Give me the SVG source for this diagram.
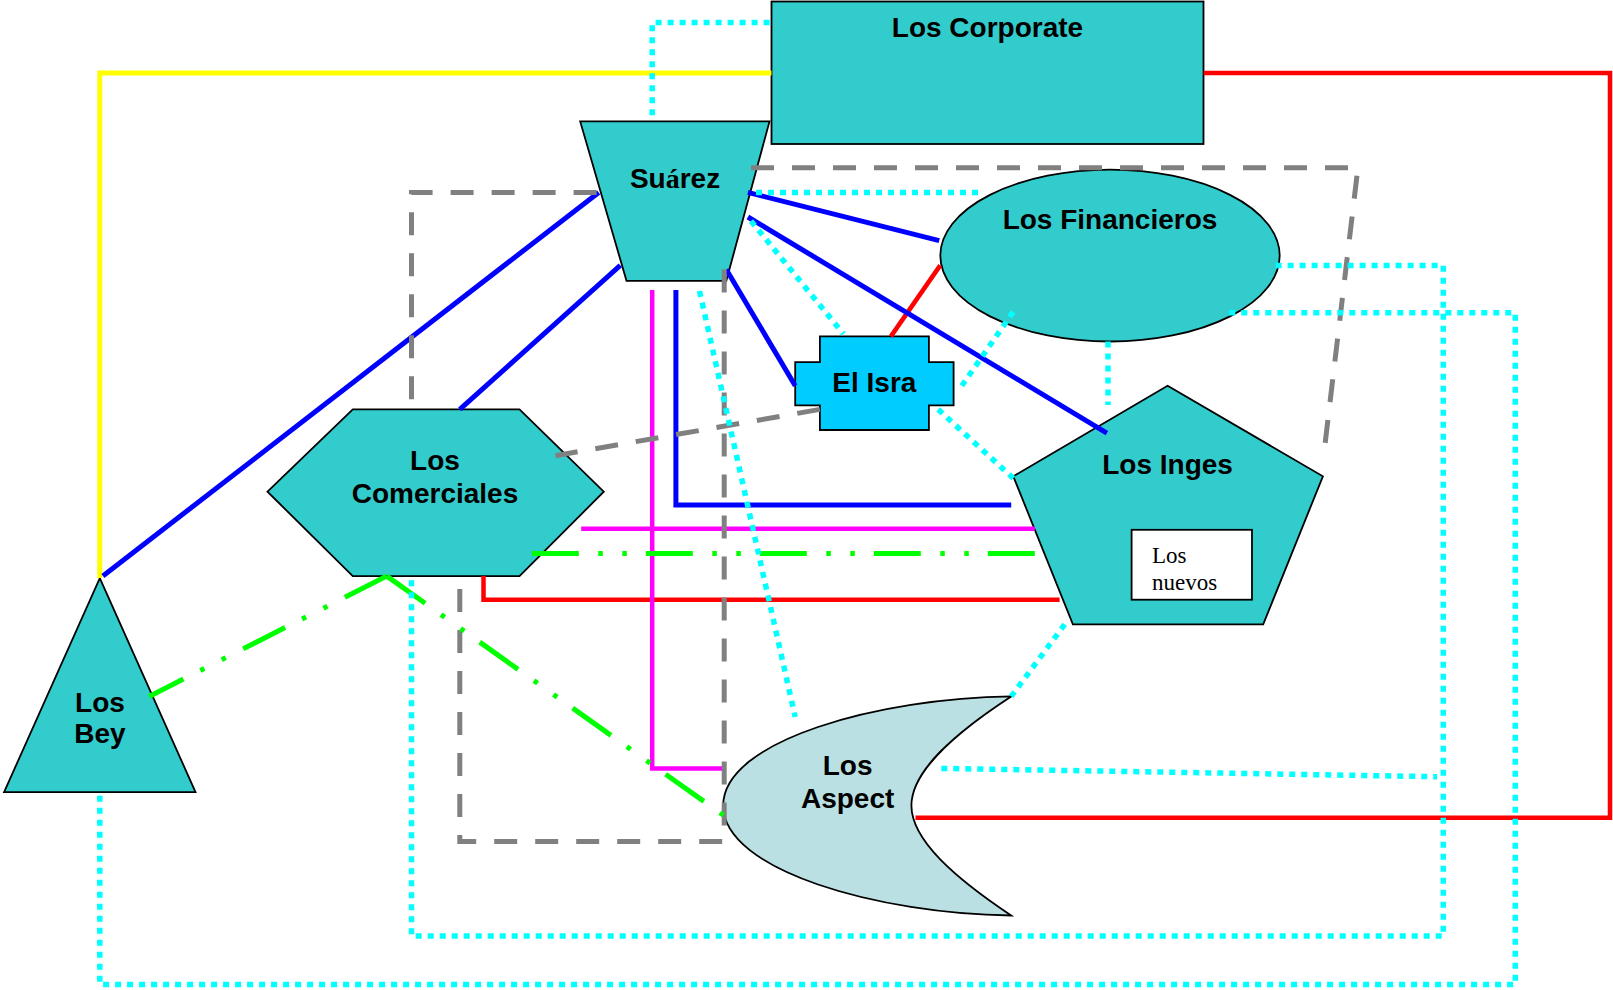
<svg xmlns="http://www.w3.org/2000/svg" width="1613" height="990" viewBox="0 0 1613 990">
  <style>
    .node { fill: #33CCCC; stroke: #000; stroke-width: 1.8; }
    .lbl { font-family: "Liberation Sans", Arial, sans-serif; font-weight: bold; font-size: 28px; fill: #000; text-anchor: middle; }
    .small { font-family: "Liberation Serif", "Times New Roman", serif; font-size: 23px; fill: #000; }
    .c { fill: none; stroke-linecap: butt; stroke-linejoin: miter; }
    .blue { stroke: #0000FF; stroke-width: 5; }
    .red { stroke: #FF0000; stroke-width: 4.5; }
    .yellow { stroke: #FFFF00; stroke-width: 5; }
    .magenta { stroke: #FF00FF; stroke-width: 4.5; }
    .gray { stroke: #808080; stroke-width: 5; stroke-dasharray: 23 18; }
    .dot { stroke: #00FFFF; stroke-width: 5.5; stroke-dasharray: 6 6; }
    .green { stroke: #00FF00; stroke-width: 5; stroke-dasharray: 47 19.5 4.5 19.5 4.5 19; }
  </style>

  <!-- nodes -->
  <g id="los-corporate">
    <rect class="node" x="771.5" y="1.5" width="432" height="142.5"/>
    <text class="lbl" x="987.5" y="37">Los Corporate</text>
  </g>
  <g id="suarez">
    <polygon class="node" points="580.2,121.4 769.5,121.4 726.3,280.8 626.5,280.8"/>
    <text class="lbl" x="675" y="187.5">Su<tspan font-family="Liberation Serif, serif">á</tspan>rez</text>
  </g>
  <g id="los-financieros">
    <ellipse class="node" cx="1110" cy="255.6" rx="169.7" ry="85.9"/>
    <text class="lbl" x="1110" y="228.5">Los Financieros</text>
  </g>
  <g id="el-isra">
    <polygon class="node" style="fill:#00CCFF" points="819.9,336.4 928.9,336.4 928.9,362.1 953.6,362.1 953.6,405.3 928.9,405.3 928.9,430 819.9,430 819.9,405.3 795.2,405.3 795.2,362.1 819.9,362.1"/>
    <text class="lbl" x="874.4" y="392">El Isra</text>
  </g>
  <g id="los-inges">
    <polygon class="node" points="1167.6,385.8 1322.9,476.3 1263.2,624.4 1072.9,624.4 1013.3,476.3"/>
    <text class="lbl" x="1167.6" y="474">Los Inges</text>
  </g>
  <g id="los-nuevos">
    <rect x="1131.6" y="529.8" width="120.4" height="69.9" fill="#FFFFFF" stroke="#000" stroke-width="1.8"/>
    <text class="small" x="1152" y="563">Los</text>
    <text class="small" x="1152" y="589.5">nuevos</text>
  </g>
  <g id="los-comerciales">
    <polygon class="node" points="267.5,491.7 352.8,409.4 519.5,409.4 603.8,491.7 519.5,576.1 352.8,576.1"/>
    <text class="lbl" x="435" y="470">Los</text>
    <text class="lbl" x="435" y="503">Comerciales</text>
  </g>
  <g id="los-bey">
    <polygon class="node" points="99.8,578.1 195.5,792.1 4.1,792.1"/>
    <text class="lbl" x="100" y="712">Los</text>
    <text class="lbl" x="100" y="743">Bey</text>
  </g>
  <g id="los-aspect">
    <path class="node" style="fill:#BBE0E3" d="M1011.2,696.4 C880,698 723.2,740 723.2,805.5 C723.2,871 880,914 1011.2,915.5 C955,878 911.4,840 911.4,805.5 C911.4,771 955,733 1011.2,696.4 Z"/>
    <text class="lbl" x="847.6" y="774.5">Los</text>
    <text class="lbl" x="847.6" y="807.5">Aspect</text>
  </g>

  <!-- connectors -->
  <g id="connectors">
    <!-- solid -->
    <polyline class="c yellow" points="771.5,73 99.8,73 99.8,578"/>
    <polyline class="c red" points="1203.6,73 1610,73 1610,817.8 915.5,817.8"/>
    <line class="c red" x1="890.9" y1="336.4" x2="940.2" y2="265.4"/>
    <polyline class="c red" points="483.5,576.1 483.5,599.7 1059.6,599.7"/>
    <line class="c blue" x1="598.7" y1="192.4" x2="102.9" y2="576"/>
    <line class="c blue" x1="620.3" y1="265.4" x2="459.8" y2="409.4"/>
    <line class="c blue" x1="747.9" y1="192.4" x2="939.2" y2="240.7"/>
    <line class="c blue" x1="747.9" y1="217" x2="1106.9" y2="433.1"/>
    <line class="c blue" x1="726.3" y1="269.5" x2="795.2" y2="385.8"/>
    <polyline class="c blue" points="675.9,290 675.9,505.1 1011.2,505.1"/>
    <polyline class="c magenta" points="652.2,290 652.2,768.4 724.2,768.4"/>
    <line class="c magenta" x1="581.2" y1="528.8" x2="1034.9" y2="528.8"/>

    <!-- dashed -->
    <polyline class="c gray" points="596.6,192.4 411.5,192.4 411.5,409.4"/>
    <polyline class="c gray" points="724.2,269.5 724.2,841.5 459.8,841.5 459.8,576.1"/>
    <polyline class="c gray" points="751,167.7 1357.9,167.7 1325,444.4"/>
    <line class="c gray" x1="819.9" y1="409.4" x2="555.5" y2="455.7"/>

    <!-- dash-dot -->
    <line class="c green" x1="531.8" y1="553.4" x2="1034.9" y2="553.4"/>
    <line class="c green" x1="386.8" y1="576.1" x2="149.2" y2="696.4"/>
    <line class="c green" x1="386.8" y1="576.1" x2="724.2" y2="815.8"/>

    <!-- dotted -->
    <polyline class="c dot" points="652.2,115.2 652.2,22.6 771.5,22.6"/>
    <line class="c dot" x1="756" y1="192.4" x2="982.4" y2="192.4"/>
    <line class="c dot" x1="751" y1="221" x2="843.5" y2="334"/>
    <line class="c dot" x1="699.5" y1="291" x2="795.2" y2="717"/>
    <line class="c dot" x1="961.8" y1="385.8" x2="1013.3" y2="311.7"/>
    <line class="c dot" x1="938.2" y1="409.4" x2="1013.3" y2="478.3"/>
    <line class="c dot" x1="1108" y1="341.5" x2="1108" y2="405"/>
    <line class="c dot" x1="1064.7" y1="624.4" x2="1011.2" y2="696.4"/>
    <polyline class="c dot" points="1275.6,265.4 1443.3,265.4 1443.3,936.1 411.5,936.1 411.5,576.1"/>
    <polyline class="c dot" points="1229.3,312.7 1515.3,312.7 1515.3,984.5 99.8,984.5 99.8,792.1"/>
    <line class="c dot" x1="941.3" y1="768.4" x2="1437" y2="776.7"/>
  </g>
</svg>
